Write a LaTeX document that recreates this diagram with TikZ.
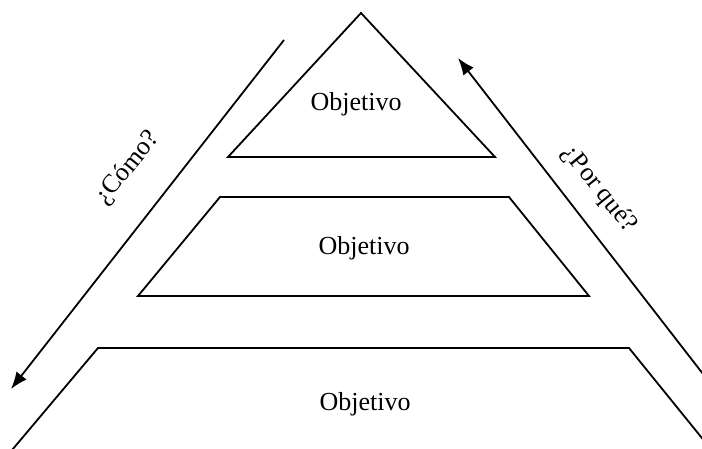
\documentclass[tikz,border=0pt]{standalone}
\usepackage{fontspec}
\setmainfont{Liberation Serif}
\usetikzlibrary{arrows.meta, positioning, calc}
\tikzset{
    level/.style={draw, line width=0.9pt, line join=miter},
    flow/.style={draw, line width=0.9pt, -{Latex[length=8.5pt, width=6.5pt]}},
    goal/.style={font=\fontsize{13}{15}\selectfont, inner sep=0pt},
    ask/.style={font=\fontsize{13}{15}\selectfont, inner sep=0pt},
}

\begin{document}
\begin{tikzpicture}[x=0.5pt, y=-0.5pt]
    \useasboundingbox (0,0) rectangle (702,449);

    % top level
    \coordinate (t0) at (361,13);
    \coordinate (t1) at (228,157);
    \coordinate (t2) at (495,157);
    \draw[level] (t0) -- (t1) -- (t2) -- cycle;
    \node[goal] (g0) at (356,104) {Objetivo};

    % middle level
    \coordinate (m0) at (220,197);
    \coordinate (m1) at (509,197);
    \coordinate (m2) at (589,296);
    \coordinate (m3) at (138,296);
    \draw[level] (m0) -- (m1) -- (m2) -- (m3) -- cycle;
    \node[goal] (g1) at (364,248) {Objetivo};

    % bottom level
    \coordinate (b0) at (98,348);
    \coordinate (b1) at (629,348);
    \coordinate (b2) at (710,448);
    \coordinate (b3) at (7,456);
    \draw[level] (b3) -- (b0) -- (b1) -- (b2);
    \node[goal] (g2) at (365,404) {Objetivo};

    % arrows
    \coordinate (c0) at (284,40);
    \coordinate (c1) at (11,389);
    \draw[flow] (c0) -- (c1);
    \node[ask, rotate=51] (how) at (128,168) {¿Cómo?};

    \coordinate (p0) at (710,383);
    \coordinate (p1) at (458,58);
    \draw[flow] (p0) -- (p1);
    \node[ask, rotate=-51] (why) at (599,189) {¿Por qué?};
\end{tikzpicture}
\end{document}
